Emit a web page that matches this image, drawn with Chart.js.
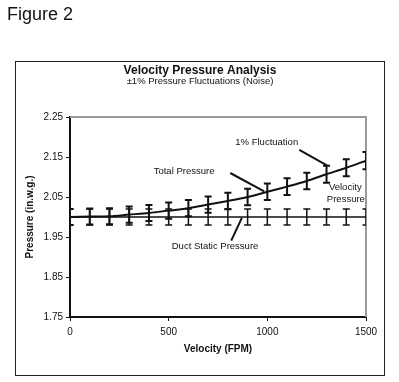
<!DOCTYPE html>
<html>
<head>
<meta charset="utf-8">
<script src="https://cdn.jsdelivr.net/npm/chart.js@4/dist/chart.umd.min.js"></script>
<style>
  html, body { margin: 0; padding: 0; background: #fff; }
  #wrap { width: 399px; height: 382px; position: relative; }
</style>
</head>
<body>
<div id="wrap"><canvas id="c" width="399" height="382"></canvas></div>
<script>
// ---- data ----
const velocity = [0, 100, 200, 300, 400, 500, 600, 700, 800, 900, 1000, 1100, 1200, 1300, 1400, 1500];
const ductStatic = [2.00, 2.00, 2.00, 2.00, 2.00, 2.00, 2.00, 2.00, 2.00, 2.00, 2.00, 2.00, 2.00, 2.00, 2.00, 2.00];
const ductStaticErr = [0.02, 0.02, 0.02, 0.02, 0.02, 0.02, 0.02, 0.02, 0.02, 0.02, 0.02, 0.02, 0.02, 0.02, 0.02, 0.02];
const totalPressure = [2.000, 2.001, 2.002, 2.006, 2.010, 2.016, 2.022, 2.031, 2.040, 2.050, 2.063, 2.076, 2.090, 2.107, 2.123, 2.141];
const totalPressureErr = [0.0200, 0.0200, 0.0200, 0.0201, 0.0201, 0.0202, 0.0202, 0.0203, 0.0204, 0.0205, 0.0206, 0.0208, 0.0209, 0.0211, 0.0212, 0.0214];
const xTicks = [0, 500, 1000, 1500];
const xTickLabels = ['0', '500', '1000', '1500'];
const yTicks = [1.75, 1.85, 1.95, 2.05, 2.15, 2.25];
const yTickLabels = ['1.75', '1.85', '1.95', '2.05', '2.15', '2.25'];

const figureLabel = 'Figure 2';
const chartTitle = 'Velocity Pressure Analysis';
const chartSubtitle = '\u00B11% Pressure Fluctuations (Noise)';
const xTitle = 'Velocity (FPM)';
const yTitle = 'Pressure (in.w.g.)';

// annotation texts and their anchor points (data space)
const noteTexts = ['1% Fluctuation', 'Total Pressure', 'Velocity', 'Pressure', 'Duct Static Pressure'];
const noteX = [997, 578, 1395, 1398, 735];
const noteY = [2.186, 2.114, 2.074, 2.043, 1.926];
// arrow lines (data space): from -> to
const arrowX1 = [1162, 812, 817];
const arrowY1 = [2.168, 2.110, 1.941];
const arrowX2 = [1302, 984, 871];
const arrowY2 = [2.129, 2.064, 1.998];

const FONT = "'Liberation Sans', Arial, Helvetica, sans-serif";
const INK = '#111';

const toPts = (xs, ys) => xs.map((x, i) => ({ x: x, y: ys[i] }));
const labelFor = (ticks, labels) => (v) => {
  const i = ticks.findIndex(t => Math.abs(t - v) < 1e-9);
  return i >= 0 ? labels[i] : '';
};

const decorPlugin = {
  id: 'decor',
  beforeDraw(chart) {
    const ctx = chart.ctx;
    ctx.save();
    ctx.fillStyle = '#fff';
    ctx.fillRect(0, 0, chart.width, chart.height);
    // figure label
    ctx.fillStyle = INK;
    ctx.font = '18px ' + FONT;
    ctx.textAlign = 'left';
    ctx.textBaseline = 'alphabetic';
    ctx.fillText(figureLabel, 7, 20);
    // outer box
    ctx.strokeStyle = '#222';
    ctx.lineWidth = 1;
    ctx.strokeRect(15.5, 61.5, 369, 314);
    // titles
    ctx.textAlign = 'center';
    ctx.textBaseline = 'middle';
    ctx.font = 'bold 12px ' + FONT;
    ctx.fillText(chartTitle, 200, 71);
    ctx.font = '9.5px ' + FONT;
    ctx.fillText(chartSubtitle, 200, 81);
    // axis titles
    const a = chart.chartArea;
    ctx.font = 'bold 10px ' + FONT;
    ctx.fillText(xTitle, (a.left + a.right) / 2, 349.5);
    ctx.save();
    ctx.translate(30.5, (a.top + a.bottom) / 2);
    ctx.rotate(-Math.PI / 2);
    ctx.fillText(yTitle, 0, 0);
    ctx.restore();
    ctx.restore();
  },
  beforeDatasetsDraw(chart) {
    // gray top and right frame of plot area
    const ctx = chart.ctx, a = chart.chartArea;
    ctx.save();
    ctx.strokeStyle = '#9a9a9a';
    ctx.lineWidth = 2;
    ctx.beginPath();
    ctx.moveTo(a.left, a.top);
    ctx.lineTo(a.right, a.top);
    ctx.lineTo(a.right, a.bottom);
    ctx.stroke();
    ctx.restore();
  },
  afterDatasetsDraw(chart) {
    const ctx = chart.ctx, a = chart.chartArea;
    const xs = chart.scales.x, ys = chart.scales.y;
    ctx.save();
    ctx.beginPath();
    ctx.rect(a.left, a.top - 2, a.right - a.left, a.bottom - a.top + 4);
    ctx.clip();
    chart.data.datasets.forEach(ds => {
      const errs = ds.errors;
      if (!errs) return;
      ctx.strokeStyle = INK;
      ctx.lineWidth = ds.errWidth;
      ds.data.forEach((p, i) => {
        const px = xs.getPixelForValue(p.x);
        const y1 = ys.getPixelForValue(p.y + errs[i]);
        const y2 = ys.getPixelForValue(p.y - errs[i]);
        const cap = 3.5;
        ctx.beginPath();
        ctx.moveTo(px, y1); ctx.lineTo(px, y2);
        ctx.moveTo(px - cap, y1); ctx.lineTo(px + cap, y1);
        ctx.moveTo(px - cap, y2); ctx.lineTo(px + cap, y2);
        ctx.stroke();
      });
    });
    ctx.restore();

    // annotations
    ctx.save();
    ctx.fillStyle = INK;
    ctx.font = '9.5px ' + FONT;
    ctx.textAlign = 'center';
    ctx.textBaseline = 'middle';
    noteTexts.forEach((t, i) => {
      ctx.fillText(t, xs.getPixelForValue(noteX[i]), ys.getPixelForValue(noteY[i]));
    });
    ctx.strokeStyle = INK;
    ctx.lineWidth = 2;
    arrowX1.forEach((x, i) => {
      ctx.beginPath();
      ctx.moveTo(xs.getPixelForValue(x), ys.getPixelForValue(arrowY1[i]));
      ctx.lineTo(xs.getPixelForValue(arrowX2[i]), ys.getPixelForValue(arrowY2[i]));
      ctx.stroke();
    });
    ctx.restore();
  }
};

new Chart(document.getElementById('c'), {
  type: 'line',
  data: {
    datasets: [
      {
        label: 'Duct Static Pressure',
        data: toPts(velocity, ductStatic),
        errors: ductStaticErr,
        errWidth: 1.5,
        borderColor: INK,
        borderWidth: 1.5,
        pointRadius: 0,
        tension: 0
      },
      {
        label: 'Total Pressure',
        data: toPts(velocity, totalPressure),
        errors: totalPressureErr,
        errWidth: 2,
        borderColor: INK,
        borderWidth: 2,
        pointRadius: 0,
        tension: 0.3
      }
    ]
  },
  options: {
    responsive: false,
    animation: false,
    devicePixelRatio: 1,
    layout: { padding: { left: 0, top: 117, right: 33, bottom: 0 } },
    plugins: { legend: { display: false }, tooltip: { enabled: false }, title: { display: false } },
    scales: {
      x: {
        type: 'linear',
        min: 0, max: 1500,
        afterBuildTicks: s => { s.ticks = xTicks.map(v => ({ value: v })); },
        afterFit: s => { s.height = 65; },
        border: { display: true, color: '#111', width: 2 },
        grid: { drawOnChartArea: false, drawTicks: true, tickLength: 4, color: '#111', lineWidth: 1 },
        ticks: { color: INK, font: { family: FONT, size: 10 }, padding: 5, maxRotation: 0,
                 callback: labelFor(xTicks, xTickLabels) }
      },
      y: {
        type: 'linear',
        min: 1.75, max: 2.25,
        afterBuildTicks: s => { s.ticks = yTicks.map(v => ({ value: v })); },
        afterFit: s => { s.width = 70; },
        border: { display: true, color: '#111', width: 2 },
        grid: { drawOnChartArea: false, drawTicks: true, tickLength: 4, color: '#111', lineWidth: 1 },
        ticks: { color: INK, font: { family: FONT, size: 10 }, padding: 3,
                 callback: labelFor(yTicks, yTickLabels) }
      }
    }
  },
  plugins: [decorPlugin]
});
</script>
</body>
</html>
